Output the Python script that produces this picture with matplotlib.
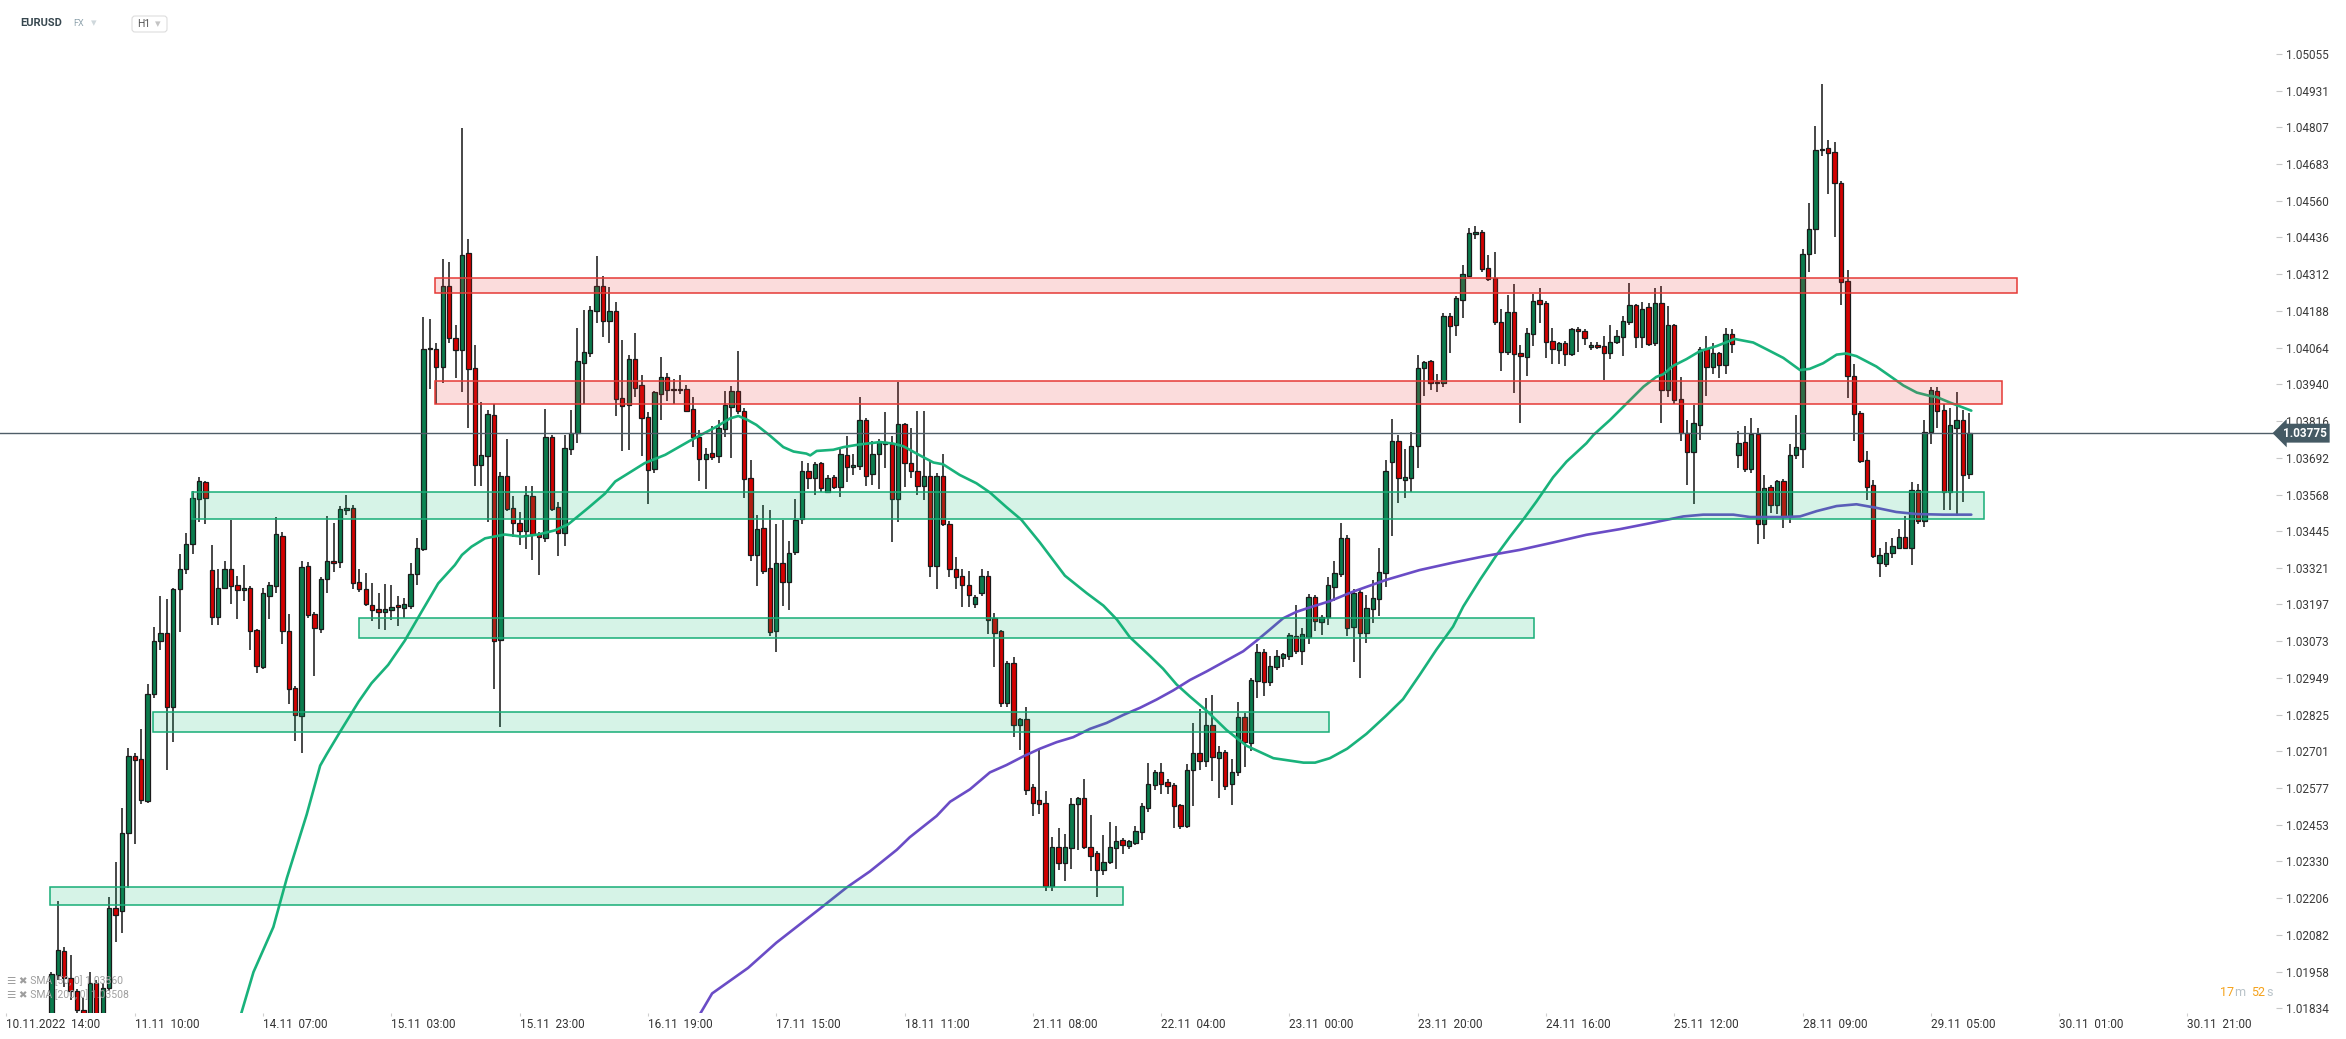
import numpy as np
import matplotlib
matplotlib.use("Agg")
import matplotlib.pyplot as plt
from matplotlib.patches import Rectangle, FancyBboxPatch
from matplotlib.transforms import blended_transform_factory

plt.rcParams['font.family'] = ['Roboto', 'DejaVu Sans']

# EURUSD H1 candles, bar 0 = 10.11.2022 14:00 (first visible bar is 7)
first_bar = 7
opens = [
    1.01720, 1.01946, 1.02027, 1.01937, 1.01892, 1.01829, 1.01750, 1.01920, 1.01780, 1.01901,
    1.02171, 1.02161, 1.02427, 1.02687, 1.02676, 1.02535, 1.02893, 1.03073, 1.03102, 1.02850,
    1.03248, 1.03315, 1.03402, 1.03552, 1.03609, 1.03312, 1.03156, 1.03254, 1.03315, 1.03262,
    1.03245, 1.03254, 1.03109, 1.02985, 1.03227, 1.03259, 1.03429, 1.03108, 1.02914, 1.02819,
    1.03325, 1.03165, 1.03115, 1.03282, 1.03345, 1.03339, 1.03515, 1.03521, 1.03272, 1.03248,
    1.03196, 1.03183, 1.03172, 1.03179, 1.03195, 1.03186, 1.03193, 1.03300, 1.03385, 1.04058,
    1.04060, 1.03998, 1.04271, 1.04095, 1.04057, 1.04383, 1.03994, 1.03668, 1.03699, 1.03838,
    1.03078, 1.03629, 1.03523, 1.03472, 1.03444, 1.03563, 1.03433, 1.03420, 1.03763, 1.03526,
    1.03437, 1.03723, 1.03774, 1.04013, 1.04046, 1.04187, 1.04271, 1.04152, 1.04187, 1.03895,
    1.03870, 1.04024, 1.03936, 1.03829, 1.03654, 1.03906, 1.03966, 1.03925, 1.03921, 1.03923,
    1.03856, 1.03763, 1.03687, 1.03708, 1.03697, 1.03788, 1.03863, 1.03916, 1.03849, 1.03625,
    1.03363, 1.03456, 1.03321, 1.03106, 1.03336, 1.03273, 1.03373, 1.03486, 1.03646, 1.03624,
    1.03673, 1.03577, 1.03626, 1.03593, 1.03700, 1.03661, 1.03663, 1.03819, 1.03637, 1.03704,
    1.03745, 1.03740, 1.03552, 1.03805, 1.03676, 1.03649, 1.03598, 1.03632, 1.03327, 1.03632,
    1.03468, 1.03318, 1.03294, 1.03261, 1.03200, 1.03234, 1.03293, 1.03150, 1.03107, 1.02865,
    1.02998, 1.02791, 1.02811, 1.02580, 1.02536, 1.02528, 1.02246, 1.02379, 1.02323, 1.02374,
    1.02522, 1.02542, 1.02377, 1.02358, 1.02302, 1.02329, 1.02374, 1.02403, 1.02381, 1.02391,
    1.02430, 1.02510, 1.02587, 1.02631, 1.02597, 1.02586, 1.02519, 1.02450, 1.02637, 1.02696,
    1.02667, 1.02789, 1.02678, 1.02698, 1.02590, 1.02631, 1.02817, 1.02729, 1.02939, 1.03037,
    1.02935, 1.02986, 1.03016, 1.03022, 1.03089, 1.03039, 1.03087, 1.03223, 1.03137, 1.03153,
    1.03255, 1.03299, 1.03420, 1.03120, 1.03238, 1.03100, 1.03181, 1.03215, 1.03302, 1.03679,
    1.03750, 1.03617, 1.03623, 1.03732, 1.03994, 1.04017, 1.03949, 1.03943, 1.04171, 1.04140,
    1.04224, 1.04307, 1.04446, 1.04455, 1.04334, 1.04298, 1.04149, 1.04050, 1.04183, 1.04045,
    1.04031, 1.04110, 1.04225, 1.04213, 1.04086, 1.04056, 1.04078, 1.04041, 1.04126, 1.04121,
    1.04065, 1.04073, 1.04069, 1.04045, 1.04082, 1.04101, 1.04149, 1.04207, 1.04099, 1.04200,
    1.04078, 1.04216, 1.03921, 1.04139, 1.03889, 1.03775, 1.03711, 1.03802, 1.04058, 1.04000,
    1.04046, 1.04005, 1.04110, 1.03700, 1.03744, 1.03655, 1.03771, 1.03467, 1.03593, 1.03531,
    1.03614, 1.03491, 1.03700, 1.03723, 1.04380, 1.04465, 1.04730, 1.04738, 1.04723, 1.04618,
    1.04290, 1.03967, 1.03843, 1.03684, 1.03599, 1.03337, 1.03335, 1.03370, 1.03389, 1.03424,
    1.03389, 1.03584, 1.03477, 1.03779, 1.03918, 1.03854, 1.03578, 1.03793, 1.03820, 1.03636,
]
highs = [
    1.01956, 1.02197, 1.02040, 1.02015, 1.01900, 1.01870, 1.01958, 1.01930, 1.01918, 1.02209,
    1.02326, 1.02510, 1.02714, 1.02697, 1.02776, 1.02928, 1.03122, 1.03225, 1.03215, 1.03253,
    1.03367, 1.03437, 1.03579, 1.03627, 1.03612, 1.03396, 1.03317, 1.03344, 1.03482, 1.03292,
    1.03330, 1.03260, 1.03115, 1.03253, 1.03272, 1.03491, 1.03440, 1.03163, 1.02922, 1.03343,
    1.03340, 1.03170, 1.03290, 1.03494, 1.03472, 1.03528, 1.03568, 1.03534, 1.03315, 1.03303,
    1.03268, 1.03234, 1.03265, 1.03261, 1.03224, 1.03217, 1.03337, 1.03422, 1.04166, 1.04161,
    1.04078, 1.04363, 1.04354, 1.04140, 1.04805, 1.04432, 1.04071, 1.03881, 1.03852, 1.03874,
    1.03644, 1.03757, 1.03564, 1.03509, 1.03597, 1.03597, 1.03440, 1.03855, 1.03770, 1.03544,
    1.03768, 1.03854, 1.04129, 1.04191, 1.04203, 1.04373, 1.04305, 1.04267, 1.04219, 1.04090,
    1.04039, 1.04113, 1.03973, 1.03847, 1.03916, 1.04033, 1.03977, 1.03957, 1.03971, 1.03939,
    1.03897, 1.03785, 1.03725, 1.03799, 1.03820, 1.03916, 1.03935, 1.04054, 1.03861, 1.03685,
    1.03499, 1.03532, 1.03516, 1.03468, 1.03481, 1.03411, 1.03553, 1.03680, 1.03673, 1.03679,
    1.03679, 1.03634, 1.03634, 1.03722, 1.03764, 1.03704, 1.03897, 1.03825, 1.03749, 1.03755,
    1.03845, 1.03767, 1.03948, 1.03810, 1.03791, 1.03849, 1.03849, 1.03682, 1.03640, 1.03704,
    1.03477, 1.03357, 1.03318, 1.03311, 1.03230, 1.03318, 1.03311, 1.03168, 1.03110, 1.03006,
    1.03018, 1.02815, 1.02850, 1.02590, 1.02714, 1.02566, 1.02412, 1.02442, 1.02422, 1.02542,
    1.02548, 1.02607, 1.02485, 1.02365, 1.02418, 1.02462, 1.02448, 1.02410, 1.02403, 1.02448,
    1.02527, 1.02661, 1.02639, 1.02661, 1.02607, 1.02595, 1.02525, 1.02658, 1.02797, 1.02844,
    1.02880, 1.02892, 1.02720, 1.02705, 1.02675, 1.02868, 1.02830, 1.02950, 1.03063, 1.03045,
    1.03024, 1.03042, 1.03034, 1.03100, 1.03196, 1.03116, 1.03231, 1.03230, 1.03160, 1.03291,
    1.03344, 1.03473, 1.03430, 1.03248, 1.03245, 1.03229, 1.03280, 1.03387, 1.03683, 1.03822,
    1.03769, 1.03721, 1.03778, 1.04039, 1.04019, 1.04022, 1.03975, 1.04180, 1.04180, 1.04238,
    1.04343, 1.04467, 1.04474, 1.04460, 1.04377, 1.04385, 1.04194, 1.04242, 1.04279, 1.04073,
    1.04131, 1.04245, 1.04264, 1.04220, 1.04131, 1.04084, 1.04086, 1.04129, 1.04133, 1.04125,
    1.04084, 1.04084, 1.04103, 1.04140, 1.04124, 1.04172, 1.04281, 1.04210, 1.04219, 1.04213,
    1.04264, 1.04273, 1.04205, 1.04145, 1.03965, 1.03820, 1.03870, 1.04067, 1.04104, 1.04081,
    1.04050, 1.04130, 1.04125, 1.03781, 1.03799, 1.03825, 1.03791, 1.03634, 1.03601, 1.03618,
    1.03620, 1.03738, 1.03837, 1.04397, 1.04552, 1.04811, 1.04955, 1.04763, 1.04757, 1.04625,
    1.04325, 1.04008, 1.03850, 1.03715, 1.03618, 1.03386, 1.03407, 1.03421, 1.03451, 1.03494,
    1.03610, 1.03605, 1.03820, 1.03930, 1.03930, 1.03872, 1.03860, 1.03913, 1.03854, 1.03843,
]
lows = [
    1.01680, 1.01930, 1.01905, 1.01861, 1.01800, 1.01700, 1.01700, 1.01750, 1.01760, 1.01892,
    1.02057, 1.02089, 1.02241, 1.02387, 1.02522, 1.02526, 1.02881, 1.03042, 1.02639, 1.02732,
    1.03104, 1.03300, 1.03368, 1.03476, 1.03470, 1.03128, 1.03128, 1.03249, 1.03199, 1.03149,
    1.03210, 1.03042, 1.02964, 1.02980, 1.03149, 1.03236, 1.03064, 1.02860, 1.02735, 1.02697,
    1.03150, 1.02956, 1.03100, 1.03235, 1.03306, 1.03321, 1.03500, 1.03250, 1.03239, 1.03190,
    1.03141, 1.03114, 1.03110, 1.03144, 1.03123, 1.03151, 1.03183, 1.03261, 1.03376, 1.03925,
    1.03874, 1.03946, 1.04081, 1.03962, 1.03913, 1.03794, 1.03596, 1.03596, 1.03475, 1.02913,
    1.02783, 1.03513, 1.03426, 1.03399, 1.03385, 1.03347, 1.03296, 1.03406, 1.03513, 1.03362,
    1.03395, 1.03702, 1.03743, 1.03874, 1.04031, 1.04147, 1.04101, 1.04081, 1.03833, 1.03714,
    1.03719, 1.03898, 1.03698, 1.03535, 1.03640, 1.03819, 1.03884, 1.03874, 1.03906, 1.03845,
    1.03728, 1.03612, 1.03586, 1.03685, 1.03676, 1.03763, 1.03691, 1.03840, 1.03556, 1.03345,
    1.03258, 1.03300, 1.03092, 1.03035, 1.03193, 1.03179, 1.03365, 1.03470, 1.03586, 1.03568,
    1.03576, 1.03574, 1.03585, 1.03559, 1.03610, 1.03634, 1.03650, 1.03598, 1.03600, 1.03586,
    1.03658, 1.03408, 1.03474, 1.03592, 1.03624, 1.03568, 1.03550, 1.03291, 1.03248, 1.03460,
    1.03291, 1.03248, 1.03188, 1.03188, 1.03186, 1.03227, 1.03098, 1.02986, 1.02850, 1.02850,
    1.02749, 1.02706, 1.02554, 1.02483, 1.02489, 1.02230, 1.02230, 1.02302, 1.02264, 1.02305,
    1.02367, 1.02370, 1.02298, 1.02209, 1.02284, 1.02320, 1.02305, 1.02353, 1.02371, 1.02385,
    1.02403, 1.02497, 1.02572, 1.02558, 1.02558, 1.02442, 1.02440, 1.02442, 1.02516, 1.02637,
    1.02649, 1.02601, 1.02542, 1.02572, 1.02521, 1.02619, 1.02649, 1.02702, 1.02880, 1.02888,
    1.02923, 1.02974, 1.02985, 1.03010, 1.03030, 1.02992, 1.03065, 1.03108, 1.03093, 1.03128,
    1.03207, 1.03290, 1.03092, 1.03004, 1.02948, 1.03066, 1.03133, 1.03159, 1.03257, 1.03428,
    1.03541, 1.03555, 1.03578, 1.03657, 1.03899, 1.03921, 1.03915, 1.03930, 1.04045, 1.04104,
    1.04165, 1.04301, 1.04430, 1.04320, 1.04287, 1.04140, 1.03986, 1.04040, 1.03912, 1.03808,
    1.03969, 1.04069, 1.04146, 1.04030, 1.04008, 1.04008, 1.04003, 1.04034, 1.04050, 1.04072,
    1.04056, 1.04058, 1.03953, 1.04025, 1.04076, 1.04037, 1.04140, 1.04064, 1.04062, 1.04070,
    1.04069, 1.03810, 1.03897, 1.03874, 1.03750, 1.03599, 1.03535, 1.03753, 1.03901, 1.03974,
    1.03962, 1.03976, 1.04046, 1.03657, 1.03645, 1.03642, 1.03401, 1.03419, 1.03506, 1.03502,
    1.03456, 1.03471, 1.03688, 1.03659, 1.04319, 1.04381, 1.04712, 1.04581, 1.04436, 1.04209,
    1.03895, 1.03750, 1.03673, 1.03549, 1.03355, 1.03288, 1.03323, 1.03352, 1.03384, 1.03384,
    1.03329, 1.03470, 1.03459, 1.03738, 1.03791, 1.03517, 1.03517, 1.03494, 1.03544, 1.03622,
]
closes = [
    1.01949, 1.02031, 1.01937, 1.01892, 1.01829, 1.01760, 1.01920, 1.01780, 1.01901, 1.02171,
    1.02150, 1.02427, 1.02685, 1.02671, 1.02536, 1.02893, 1.03075, 1.03102, 1.02850, 1.03248,
    1.03315, 1.03402, 1.03556, 1.03612, 1.03557, 1.03156, 1.03254, 1.03315, 1.03258, 1.03245,
    1.03254, 1.03106, 1.02988, 1.03234, 1.03263, 1.03433, 1.03108, 1.02912, 1.02823, 1.03322,
    1.03160, 1.03116, 1.03283, 1.03343, 1.03338, 1.03518, 1.03521, 1.03268, 1.03249, 1.03197,
    1.03179, 1.03172, 1.03183, 1.03189, 1.03188, 1.03199, 1.03300, 1.03389, 1.04060, 1.04063,
    1.03998, 1.04271, 1.04095, 1.04057, 1.04377, 1.03991, 1.03669, 1.03703, 1.03840, 1.03075,
    1.03629, 1.03519, 1.03472, 1.03444, 1.03566, 1.03433, 1.03424, 1.03763, 1.03520, 1.03437,
    1.03725, 1.03776, 1.04019, 1.04049, 1.04191, 1.04271, 1.04152, 1.04187, 1.03892, 1.03867,
    1.04024, 1.03927, 1.03826, 1.03651, 1.03913, 1.03966, 1.03922, 1.03921, 1.03924, 1.03851,
    1.03763, 1.03687, 1.03704, 1.03694, 1.03792, 1.03869, 1.03916, 1.03849, 1.03620, 1.03363,
    1.03451, 1.03309, 1.03104, 1.03336, 1.03273, 1.03369, 1.03483, 1.03646, 1.03624, 1.03670,
    1.03590, 1.03624, 1.03593, 1.03704, 1.03661, 1.03668, 1.03819, 1.03632, 1.03706, 1.03745,
    1.03737, 1.03552, 1.03805, 1.03676, 1.03646, 1.03598, 1.03632, 1.03328, 1.03632, 1.03468,
    1.03317, 1.03291, 1.03264, 1.03230, 1.03222, 1.03293, 1.03144, 1.03100, 1.02865, 1.02998,
    1.02791, 1.02811, 1.02572, 1.02528, 1.02525, 1.02246, 1.02379, 1.02323, 1.02377, 1.02525,
    1.02542, 1.02377, 1.02349, 1.02302, 1.02329, 1.02377, 1.02398, 1.02386, 1.02397, 1.02433,
    1.02515, 1.02590, 1.02631, 1.02592, 1.02584, 1.02515, 1.02450, 1.02637, 1.02696, 1.02667,
    1.02789, 1.02681, 1.02698, 1.02584, 1.02633, 1.02817, 1.02732, 1.02941, 1.03037, 1.02935,
    1.02989, 1.03022, 1.03028, 1.03093, 1.03039, 1.03096, 1.03223, 1.03140, 1.03155, 1.03261,
    1.03302, 1.03420, 1.03117, 1.03235, 1.03100, 1.03184, 1.03218, 1.03305, 1.03649, 1.03750,
    1.03623, 1.03626, 1.03733, 1.03996, 1.04014, 1.03943, 1.03943, 1.04171, 1.04138, 1.04230,
    1.04311, 1.04450, 1.04455, 1.04328, 1.04294, 1.04149, 1.04050, 1.04185, 1.04043, 1.04036,
    1.04112, 1.04221, 1.04211, 1.04082, 1.04058, 1.04078, 1.04041, 1.04126, 1.04120, 1.04095,
    1.04073, 1.04065, 1.04045, 1.04084, 1.04103, 1.04152, 1.04207, 1.04099, 1.04193, 1.04076,
    1.04213, 1.03921, 1.04139, 1.03886, 1.03775, 1.03711, 1.03808, 1.04058, 1.04000, 1.04046,
    1.04005, 1.04110, 1.04075, 1.03741, 1.03655, 1.03771, 1.03467, 1.03591, 1.03531, 1.03614,
    1.03491, 1.03703, 1.03727, 1.04381, 1.04465, 1.04732, 1.04734, 1.04720, 1.04618, 1.04284,
    1.03967, 1.03839, 1.03680, 1.03595, 1.03360, 1.03364, 1.03372, 1.03393, 1.03424, 1.03386,
    1.03584, 1.03477, 1.03779, 1.03922, 1.03851, 1.03578, 1.03802, 1.03820, 1.03634, 1.03775,
]

# moving averages (bar index, price)
sma50_bar = [35.0, 38.5, 41.6, 43.7, 46.8, 48.9, 49.9, 52.0, 54.9, 56.9, 59.5, 62.1, 64.7, 67.3,
             69.9, 71.0, 72.5, 74.6, 77.7, 80.3, 82.9, 85.5, 87.6, 90.7, 93.3, 94.9, 97.5, 99.5,
             102.7, 106.5, 108.6, 110.7, 112.8, 114.1, 115.4, 116.9, 119.0, 121.1, 122.7, 124.7,
             125.3, 126.3, 128.9, 130.5, 133.0, 136.2, 138.2, 139.8, 142.4, 144.5, 146.0, 148.6,
             151.2, 153.3, 155.9, 158.2, 161.1, 165.0, 168.4, 171.0, 173.1, 175.1, 178.3, 180.3,
             182.4, 184.5, 187.1, 190.2, 193.3, 197.5, 202.2, 204.0, 206.3, 209.0, 212.0, 215.0,
             217.7, 220.3, 222.9, 225.5, 227.1, 229.7, 232.3, 234.4, 236.4, 238.5, 241.1, 243.2,
             246.3, 247.4, 250.0, 252.6, 255.2, 257.2, 258.3, 259.8, 261.9, 264.0, 266.6, 269.4,
             272.3, 274.4, 277.0, 279.6, 281.1, 283.2, 285.3, 286.8, 288.4, 291.5, 294.6, 295.7,
             297.8, 299.8, 300.9, 303.0, 306.3]
sma50_val = [1.01700, 1.01956, 1.02108, 1.02273, 1.02488, 1.02653, 1.02691, 1.02767, 1.02869,
             1.02931, 1.02993, 1.03075, 1.03172, 1.03268, 1.03330, 1.03364, 1.03392, 1.03420,
             1.03433, 1.03426, 1.03433, 1.03447, 1.03468, 1.03523, 1.03571, 1.03612, 1.03647,
             1.03674, 1.03702, 1.03749, 1.03773, 1.03797, 1.03825, 1.03833, 1.03821, 1.03803,
             1.03767, 1.03728, 1.03713, 1.03706, 1.03700, 1.03715, 1.03719, 1.03728, 1.03737,
             1.03745, 1.03740, 1.03731, 1.03700, 1.03676, 1.03670, 1.03634, 1.03606, 1.03575,
             1.03525, 1.03483, 1.03406, 1.03294, 1.03235, 1.03193, 1.03146, 1.03087, 1.03022,
             1.02980, 1.02927, 1.02886, 1.02838, 1.02773, 1.02720, 1.02678, 1.02663, 1.02663,
             1.02678, 1.02710, 1.02760, 1.02820, 1.02877, 1.02959, 1.03044, 1.03122, 1.03190,
             1.03280, 1.03364, 1.03426, 1.03482, 1.03544, 1.03626, 1.03679, 1.03741, 1.03769,
             1.03820, 1.03876, 1.03932, 1.03965, 1.03974, 1.04002, 1.04025, 1.04052, 1.04069,
             1.04093, 1.04081, 1.04058, 1.04029, 1.03988, 1.03992, 1.04011, 1.04040, 1.04044,
             1.04035, 1.04000, 1.03953, 1.03936, 1.03912, 1.03901, 1.03897, 1.03878, 1.03851]
sma200_bar = [105.0, 110.0, 115.6, 120.0, 126.8, 131.0, 134.6, 138.8, 140.8, 145.0, 147.1, 150.2,
              153.3, 155.9, 158.5, 161.1, 163.7, 166.3, 168.9, 171.5, 174.1, 176.7, 179.3, 181.9,
              184.5, 187.1, 189.7, 192.8, 194.9, 197.0, 199.0, 201.1, 203.2, 206.3, 209.9, 215.1,
              220.3, 225.5, 230.7, 235.9, 241.1, 246.3, 251.5, 256.2, 261.4, 264.5, 269.2, 271.8,
              277.0, 279.6, 282.2, 285.3, 288.4, 291.5, 294.6, 297.8, 301.9, 306.3]
sma200_val = [1.01700, 1.01884, 1.01970, 1.02055, 1.02170, 1.02242, 1.02296, 1.02369, 1.02411,
              1.02483, 1.02531, 1.02573, 1.02630, 1.02655, 1.02684, 1.02710, 1.02732, 1.02749,
              1.02777, 1.02797, 1.02824, 1.02848, 1.02876, 1.02907, 1.02942, 1.02971, 1.03002,
              1.03039, 1.03075, 1.03113, 1.03150, 1.03172, 1.03187, 1.03208, 1.03240, 1.03280,
              1.03313, 1.03338, 1.03361, 1.03381, 1.03406, 1.03432, 1.03451, 1.03471, 1.03494,
              1.03500, 1.03500, 1.03492, 1.03492, 1.03494, 1.03512, 1.03529, 1.03535, 1.03523,
              1.03509, 1.03502, 1.03500, 1.03500]

# drawn support / resistance zones
zone_start = [66.8, 66.8, 28.9, 54.9, 22.9, 6.8]
zone_end = [313.4, 311.1, 308.3, 238.2, 206.2, 174.1]
zone_low = [1.04248, 1.03872, 1.03484, 1.03082, 1.02765, 1.02181]
zone_high = [1.04300, 1.03950, 1.03575, 1.03150, 1.02833, 1.02243]
zone_kind = ['res', 'res', 'sup', 'sup', 'sup', 'sup']

last_price = 1.03775
price_ticks = [1.05055, 1.04931, 1.04807, 1.04683, 1.04560, 1.04436, 1.04312, 1.04188, 1.04064,
               1.03940, 1.03816, 1.03692, 1.03568, 1.03445, 1.03321, 1.03197, 1.03073, 1.02949,
               1.02825, 1.02701, 1.02577, 1.02453, 1.02330, 1.02206, 1.02082, 1.01958, 1.01834]
time_labels = ['10.11.2022  14:00', '11.11  10:00', '14.11  07:00', '15.11  03:00', '15.11  23:00',
               '16.11  19:00', '17.11  15:00', '18.11  11:00', '21.11  08:00', '22.11  04:00',
               '23.11  00:00', '23.11  20:00', '24.11  16:00', '25.11  12:00', '28.11  09:00',
               '29.11  05:00', '30.11  01:00', '30.11  21:00']
time_bars = list(range(0, 20 * len(time_labels), 20))

W, H = 2346, 1039
fig = plt.figure(figsize=(W / 100, H / 100), dpi=100)
ax = fig.add_axes([0, 26 / H, 2276 / W, 1013 / H])
ax.set_xlim(-1.013, 353.8)
ax.set_ylim(1.01818, 1.05237)
for s in ax.spines.values():
    s.set_visible(False)

o = np.array(opens)
h = np.array(highs)
l = np.array(lows)
c = np.array(closes)
x = np.arange(first_bar, first_bar + len(o))
up = c >= o
body_col = np.where(up, '#0b7b4d', '#d40000')

ax.vlines(x, l, h, color='#151515', lw=1.1, zorder=2)
ax.bar(x, np.abs(c - o), bottom=np.minimum(o, c), width=0.68, color=body_col,
       edgecolor='#1a1a1a', linewidth=0.9, zorder=3)

ax.plot(sma50_bar, sma50_val, color='#19b27b', lw=1.9, zorder=3.5, solid_capstyle='round')
ax.plot(sma200_bar, sma200_val, color='#6a4cc6', lw=1.9, zorder=3.5, solid_capstyle='round')

for x0, x1, lo, hi, kind in zip(zone_start, zone_end, zone_low, zone_high, zone_kind):
    if kind == 'res':
        fc, ec = (0.92, 0.2, 0.2, 0.17), '#e53935'
    else:
        fc, ec = (0.05, 0.72, 0.45, 0.17), '#17ad77'
    ax.add_patch(Rectangle((x0, lo), x1 - x0, hi - lo, facecolor=fc, edgecolor=ec,
                           linewidth=1.1, zorder=4))

ax.axhline(last_price, color='#4f5d68', lw=1.0, zorder=6)

# price axis on the right
ax.yaxis.tick_right()
ax.set_yticks(price_ticks)
ax.set_yticklabels([f'{v:.5f}' for v in price_ticks])
ax.tick_params(axis='y', direction='out', length=4, width=0.8, color='#c8c8c8', pad=3,
               labelsize=8.5, labelcolor='#3a3a3a')

# time axis
ax.set_xticks(time_bars)
ax.set_xticklabels(time_labels)
ax.tick_params(axis='x', direction='out', length=2.5, width=0.8, color='#cfcfcf', pad=1,
               labelsize=8.5, labelcolor='#333333')
for t in ax.get_xticklabels():
    t.set_ha('left')

# current price tag
tr = blended_transform_factory(ax.transAxes, ax.transData)
ax.text(1.003, last_price, f'{last_price:.5f}', transform=tr, ha='left', va='center',
        fontsize=8.5, fontweight='bold', color='white', clip_on=False, zorder=10,
        bbox=dict(boxstyle='larrow,pad=0.25', fc='#455a64', ec='none'))

# header
fig.text(20 / W, 1 - 23 / H, 'EURUSD', fontsize=8, fontweight='bold', color='#37474f', va='center')
fig.text(73 / W, 1 - 24 / H, 'FX', fontsize=6.5, color='#90a4ae', va='center')
fig.text(91 / W, 1 - 23 / H, '▾', fontsize=8, color='#cfd8dc', va='center')
# timeframe selector box (pixel coordinates)
fig.patches.append(FancyBboxPatch((132, H - 32), 35, 16, boxstyle='round,pad=0,rounding_size=3',
                                  fc='white', ec='#dddddd', lw=0.8, transform=None, figure=fig))
fig.text(137 / W, 1 - 24 / H, 'H1', fontsize=7.5, color='#555555', va='center')
fig.text(155 / W, 1 - 24 / H, '▾', fontsize=8, color='#c4c4c4', va='center')

# indicator legend
fig.text(7 / W, 1 - 981 / H, '☰ ✖ SMA [50, 0] 1.03860', fontsize=7.5, color='#9e9e9e', va='center')
fig.text(7 / W, 1 - 995 / H, '☰ ✖ SMA [200, 0] 1.03508', fontsize=7.5, color='#9e9e9e', va='center')

# bar countdown
fig.text(2220 / W, 1 - 993 / H, '17', fontsize=9, color='#f5a21b', va='center')
fig.text(2234 / W, 1 - 993 / H, 'm', fontsize=9, color='#b8c2c8', va='center')
fig.text(2251 / W, 1 - 993 / H, '52', fontsize=9, color='#f5a21b', va='center')
fig.text(2266 / W, 1 - 993 / H, 's', fontsize=9, color='#b8c2c8', va='center')

fig.savefig('out.png', dpi=100)
